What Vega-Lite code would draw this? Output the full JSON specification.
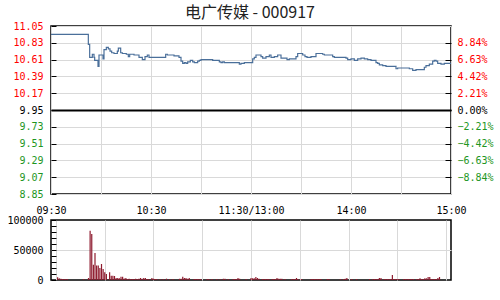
{
"$schema": "https://vega.github.io/schema/vega-lite/v6.json",
"padding": {"left": 6, "top": 5, "right": 5, "bottom": 5},
"bounds": "flush",
"spacing": 26,
"background": "white",
"title": {"text": "电广传媒 - 000917", "font": "Noto Sans CJK SC", "fontSize": 16, "fontWeight": "normal", "color": "#222222", "anchor": "middle", "offset": -1},
"config": {
  "view": {"stroke": "black", "strokeWidth": 1.5},
  "axis": {"labelFont": "DejaVu Sans Mono", "labelFontSize": 10, "labelColor": "black", "title": null, "domain": false, "tickColor": "black", "gridColor": "#d9d9d9", "gridWidth": 1}
},
"datasets": {
  "price": [{"m":0,"p":10.94},{"m":22.4,"p":10.81},{"m":23.2,"p":10.64},{"m":24.8,"p":10.68},{"m":25.8,"p":10.64},{"m":26.2,"p":10.6},{"m":28.2,"p":10.52},{"m":28.8,"p":10.67},{"m":31.2,"p":10.62},{"m":31.8,"p":10.74},{"m":33.2,"p":10.77},{"m":34.4,"p":10.75},{"m":35.4,"p":10.72},{"m":36.4,"p":10.7},{"m":37.8,"p":10.69},{"m":39.8,"p":10.72},{"m":40.4,"p":10.76},{"m":41.8,"p":10.7},{"m":42.8,"p":10.69},{"m":45.2,"p":10.68},{"m":46.4,"p":10.65},{"m":47.2,"p":10.68},{"m":49.8,"p":10.67},{"m":52.8,"p":10.64},{"m":54.8,"p":10.61},{"m":56.4,"p":10.65},{"m":57.8,"p":10.67},{"m":58.8,"p":10.64},{"m":68.8,"p":10.68},{"m":69.8,"p":10.67},{"m":73.8,"p":10.66},{"m":76.8,"p":10.64},{"m":78,"p":10.59},{"m":79,"p":10.56},{"m":80,"p":10.57},{"m":81,"p":10.56},{"m":82,"p":10.58},{"m":83.6,"p":10.6},{"m":85,"p":10.58},{"m":86,"p":10.57},{"m":88,"p":10.59},{"m":89,"p":10.6},{"m":90,"p":10.61},{"m":97,"p":10.6},{"m":101,"p":10.58},{"m":102,"p":10.57},{"m":103,"p":10.58},{"m":104,"p":10.57},{"m":113,"p":10.55},{"m":114,"p":10.56},{"m":116,"p":10.57},{"m":121,"p":10.62},{"m":122,"p":10.64},{"m":123,"p":10.67},{"m":126,"p":10.65},{"m":127,"p":10.63},{"m":129,"p":10.65},{"m":131,"p":10.67},{"m":132,"p":10.64},{"m":134,"p":10.65},{"m":136,"p":10.67},{"m":138,"p":10.63},{"m":141.6,"p":10.61},{"m":143,"p":10.62},{"m":147,"p":10.65},{"m":148,"p":10.69},{"m":151,"p":10.67},{"m":152.4,"p":10.65},{"m":153.6,"p":10.64},{"m":156,"p":10.65},{"m":159,"p":10.69},{"m":163,"p":10.68},{"m":164,"p":10.67},{"m":169,"p":10.65},{"m":170,"p":10.64},{"m":177,"p":10.63},{"m":178,"p":10.61},{"m":180,"p":10.62},{"m":182,"p":10.6},{"m":184,"p":10.62},{"m":186,"p":10.63},{"m":188,"p":10.62},{"m":190,"p":10.61},{"m":192,"p":10.6},{"m":195,"p":10.57},{"m":196,"p":10.56},{"m":197,"p":10.54},{"m":199,"p":10.53},{"m":201,"p":10.52},{"m":207,"p":10.49},{"m":208,"p":10.5},{"m":215,"p":10.49},{"m":217,"p":10.47},{"m":219,"p":10.48},{"m":224,"p":10.51},{"m":225,"p":10.53},{"m":227,"p":10.55},{"m":229,"p":10.59},{"m":230,"p":10.6},{"m":231,"p":10.59},{"m":232,"p":10.56},{"m":234,"p":10.55},{"m":236,"p":10.56},{"m":240,"p":10.56}],
  "volume": [{"m":1,"v":4400},{"m":2,"v":2800},{"m":3,"v":2000},{"m":4,"v":1700},{"m":5,"v":1700},{"m":6,"v":1700},{"m":7,"v":1500},{"m":17,"v":1500},{"m":20,"v":3300},{"m":21,"v":82000},{"m":22,"v":76700},{"m":23,"v":25500},{"m":24,"v":45000},{"m":25,"v":24000},{"m":26,"v":24000},{"m":27,"v":20000},{"m":28,"v":26700},{"m":29,"v":18300},{"m":30,"v":12800},{"m":31,"v":10000},{"m":33,"v":12800},{"m":34,"v":7200},{"m":35,"v":7200},{"m":36,"v":6700},{"m":37,"v":3300},{"m":38,"v":3300},{"m":39,"v":3000},{"m":40,"v":5500},{"m":41,"v":5500},{"m":42,"v":2500},{"m":43,"v":3300},{"m":44,"v":1700},{"m":45,"v":2000},{"m":46,"v":1700},{"m":47,"v":1700},{"m":48,"v":1700},{"m":49,"v":2000},{"m":50,"v":1700},{"m":51,"v":2200},{"m":52,"v":3300},{"m":53,"v":2200},{"m":54,"v":3300},{"m":55,"v":3300},{"m":56,"v":1700},{"m":57,"v":1700},{"m":59,"v":3300},{"m":60,"v":2200},{"m":61,"v":1700},{"m":62,"v":1700},{"m":64,"v":1700},{"m":66,"v":1700},{"m":68,"v":2200},{"m":70,"v":1700},{"m":72,"v":1700},{"m":76,"v":2200},{"m":77,"v":2200},{"m":78,"v":5500},{"m":79,"v":3300},{"m":80,"v":3300},{"m":81,"v":2200},{"m":82,"v":3300},{"m":85,"v":1700},{"m":86,"v":1700},{"m":87,"v":1700},{"m":88,"v":1700},{"m":89,"v":1700},{"m":93,"v":1700},{"m":94,"v":1700},{"m":96,"v":1700},{"m":99,"v":1700},{"m":101,"v":1700},{"m":103,"v":2200},{"m":104,"v":2200},{"m":106,"v":1700},{"m":109,"v":1700},{"m":110,"v":1700},{"m":111,"v":1700},{"m":112,"v":3300},{"m":113,"v":2200},{"m":117,"v":1700},{"m":120,"v":3300},{"m":121,"v":2800},{"m":122,"v":2800},{"m":123,"v":5000},{"m":124,"v":3300},{"m":125,"v":2200},{"m":127,"v":1700},{"m":128,"v":1700},{"m":129,"v":1700},{"m":130,"v":1700},{"m":131,"v":1700},{"m":133,"v":1700},{"m":134,"v":1700},{"m":135,"v":1700},{"m":136,"v":3300},{"m":137,"v":2200},{"m":138,"v":2200},{"m":139,"v":2200},{"m":141,"v":1700},{"m":145,"v":1700},{"m":146,"v":1700},{"m":147,"v":1700},{"m":148,"v":3300},{"m":149,"v":1700},{"m":151,"v":1700},{"m":157,"v":1700},{"m":158,"v":1700},{"m":159,"v":1700},{"m":160,"v":1700},{"m":161,"v":1700},{"m":162,"v":1700},{"m":163,"v":1700},{"m":167,"v":1700},{"m":168,"v":1700},{"m":175,"v":1700},{"m":177,"v":1700},{"m":178,"v":2200},{"m":179,"v":3300},{"m":182,"v":1700},{"m":185,"v":1700},{"m":193,"v":1700},{"m":195,"v":1700},{"m":196,"v":1700},{"m":197,"v":1700},{"m":198,"v":1700},{"m":199,"v":3300},{"m":200,"v":3300},{"m":202,"v":1700},{"m":203,"v":1700},{"m":204,"v":1700},{"m":205,"v":1700},{"m":206,"v":1700},{"m":207,"v":8300},{"m":208,"v":1700},{"m":209,"v":1700},{"m":210,"v":1700},{"m":211,"v":1700},{"m":214,"v":1700},{"m":215,"v":1700},{"m":216,"v":1700},{"m":217,"v":1700},{"m":218,"v":1700},{"m":219,"v":1700},{"m":220,"v":1700},{"m":222,"v":1700},{"m":223,"v":1700},{"m":224,"v":2800},{"m":225,"v":1700},{"m":226,"v":1700},{"m":227,"v":2800},{"m":228,"v":2800},{"m":229,"v":5000},{"m":230,"v":5000},{"m":231,"v":1700},{"m":232,"v":1700},{"m":233,"v":1700},{"m":234,"v":1700},{"m":235,"v":3300},{"m":236,"v":5000}]
},
"vconcat": [
  {
    "width": 400, "height": 168,
    "data": {"name": "price"},
    "layer": [
      {
        "mark": {"type": "line", "interpolate": "step-after", "color": "#4a6f9a", "strokeWidth": 1.2},
        "encoding": {
          "x": {"field": "m", "type": "quantitative", "scale": {"domain": [0, 240], "nice": false, "zero": false},
                "axis": {"values": [0,30,60,90,120,150,180,210,240], "labelExpr": "datum.value == 0 ? '09:30' : datum.value == 60 ? '10:30' : datum.value == 120 ? '11:30/13:00' : datum.value == 180 ? '14:00' : datum.value == 240 ? '15:00' : ''", "ticks": false, "grid": true, "labelFlush": false, "labelOverlap": false, "labelPadding": 11}},
          "y": {"field": "p", "type": "quantitative", "scale": {"domain": [8.85, 11.05], "nice": false, "zero": false},
                "axis": {"orient": "left", "values": [8.85,9.07,9.29,9.51,9.73,9.95,10.17,10.39,10.61,10.83,11.05], "format": ".2f", "tickSize": -5, "labelPadding": 13, "grid": true,
                         "gridColor": {"condition": {"test": "abs(datum.value - 9.95) < 0.001", "value": "black"}, "value": "#d9d9d9"},
                         "gridWidth": {"condition": {"test": "abs(datum.value - 9.95) < 0.001", "value": 2}, "value": 1},
                         "labelColor": {"condition": [{"test": "datum.value > 9.96", "value": "#ff0000"}, {"test": "datum.value < 9.94", "value": "#1e961e"}], "value": "black"}}}
        }
      },
      {
        "mark": {"type": "rule", "opacity": 0},
        "encoding": {
          "y": {"field": "p", "type": "quantitative",
                "axis": {"orient": "right", "values": [9.07,9.29,9.51,9.73,9.95,10.17,10.39,10.61,10.83], "labelExpr": "format((datum.value - 9.95) / 9.95 * 100, '.2f') + '%'", "tickSize": -6, "labelPadding": 12, "grid": false,
                         "labelColor": {"condition": [{"test": "datum.value > 9.96", "value": "#ff0000"}, {"test": "datum.value < 9.94", "value": "#1e961e"}], "value": "black"}}}
        }
      }
    ],
    "resolve": {"axis": {"y": "independent"}}
  },
  {
    "width": 400, "height": 60,
    "data": {"name": "volume"},
    "mark": {"type": "bar", "color": "#8e1b2e", "width": 1.2},
    "encoding": {
      "x": {"field": "m", "type": "quantitative", "scale": {"domain": [0, 240], "nice": false, "zero": false},
            "axis": {"values": [0,30,60,90,120,150,180,210,240], "labels": false, "ticks": false, "grid": true}},
      "y": {"field": "v", "type": "quantitative", "scale": {"domain": [0, 100000], "nice": false},
            "axis": {"values": [0,10000,20000,30000,40000,50000,60000,70000,80000,90000,100000], "labelExpr": "datum.value % 50000 == 0 ? format(datum.value, 'd') : ''", "tickSize": -5, "labelPadding": 13, "labelOverlap": false, "grid": true,
                     "gridColor": {"condition": {"test": "datum.value == 50000", "value": "#d9d9d9"}, "value": "transparent"}}}
    }
  }
]
}
